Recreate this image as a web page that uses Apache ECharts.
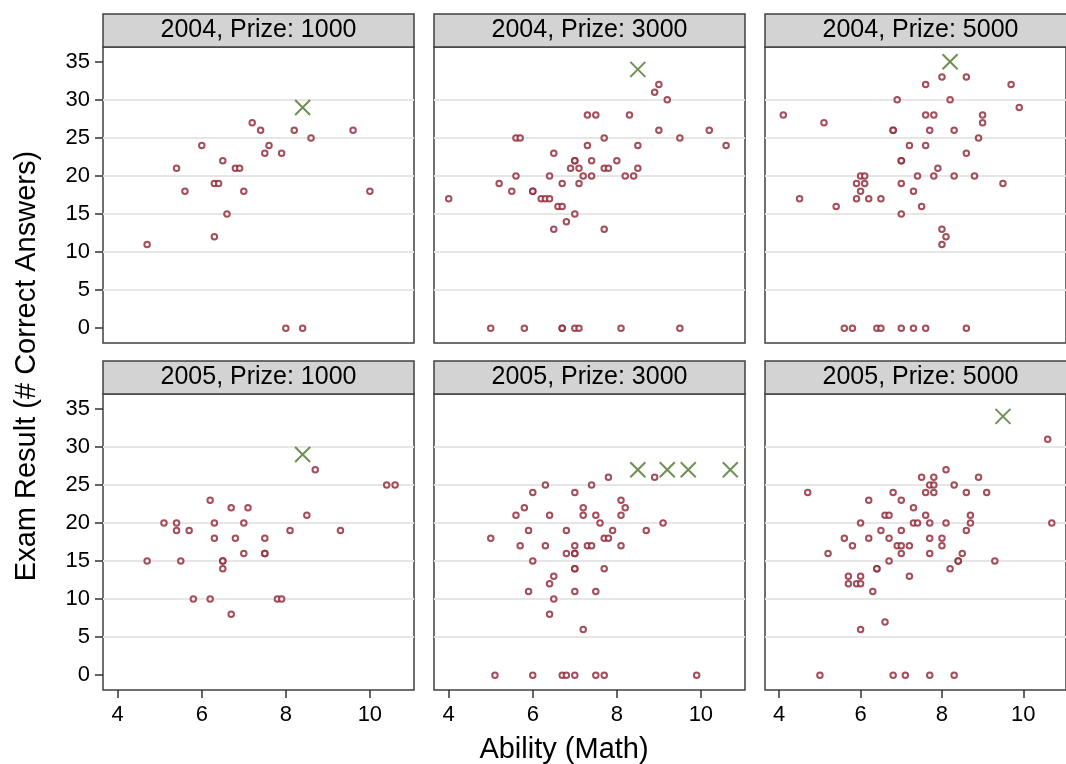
<!DOCTYPE html>
<html>
<head>
<meta charset="utf-8">
<title>Exam Result by Ability</title>
<script src="https://cdn.jsdelivr.net/npm/echarts@6/dist/echarts.min.js"></script>
<style>
    * { margin: 0; padding: 0; }
</style>
</head>
<body>
<div id="main" style="width: 1066px; height: 764px;"></div>
<script type="text/javascript">
// panel labels and ticks
var panelTitles = ['2004, Prize: 1000', '2004, Prize: 3000', '2004, Prize: 5000',
                   '2005, Prize: 1000', '2005, Prize: 3000', '2005, Prize: 5000'];
var xTicks = [4, 6, 8, 10];
var yTicks = [0, 5, 10, 15, 20, 25, 30, 35];

// students: [ability, exam result]
var pts2004p1000 = [[4.7,11],[5.4,21],[5.6,18],[6.0,24],[6.3,19],[6.4,19],[6.5,22],[6.3,12],[6.6,15],[6.8,21],[6.9,21],
    [7.0,18],[7.2,27],[7.4,26],[7.5,23],[7.6,24],[7.9,23],[8.2,26],[8.6,25],[9.6,26],[10.0,18],[8.0,0],[8.4,0]];
var pts2004p3000 = [[4.0,17],[5.0,0],[5.2,19],[5.5,18],[5.6,25],[5.7,25],[5.6,20],[5.8,0],[6.0,18],[6.0,18],[6.2,17],
    [6.3,17],[6.4,17],[6.4,20],[6.5,23],[6.5,13],[6.6,16],[6.7,16],[6.7,19],[6.7,0],[6.7,0],[6.8,14],[6.9,21],[7.0,22],
    [7.0,22],[7.0,15],[7.0,0],[7.1,0],[7.1,21],[7.1,19],[7.2,20],[7.3,24],[7.3,28],[7.4,22],[7.4,20],[7.5,28],[7.7,25],
    [7.7,21],[7.8,21],[7.7,13],[8.0,22],[8.1,0],[8.2,20],[8.3,28],[8.4,20],[8.5,24],[8.5,21],[8.9,31],[9.0,32],[9.2,30],
    [9.0,26],[9.5,25],[9.5,0],[10.2,26],[10.6,24]];
var pts2004p5000 = [[4.1,28],[4.5,17],[5.1,27],[5.4,16],[5.6,0],[5.8,0],[5.9,19],[5.9,17],[6.0,20],[6.1,20],[6.1,19],
    [6.0,18],[6.2,17],[6.4,0],[6.5,0],[6.5,17],[6.8,26],[6.8,26],[6.9,30],[7.0,22],[7.0,22],[7.0,19],[7.0,15],[7.0,0],
    [7.2,24],[7.3,18],[7.3,0],[7.4,20],[7.5,16],[7.6,32],[7.6,28],[7.6,24],[7.6,0],[7.7,26],[7.8,28],[7.8,20],[7.9,21],
    [8.0,33],[8.0,13],[8.1,12],[8.0,11],[8.2,30],[8.3,26],[8.3,20],[8.6,33],[8.6,23],[8.6,0],[8.8,20],[8.9,25],[9.0,28],
    [9.0,27],[9.5,19],[9.7,32],[9.9,29]];
var pts2005p1000 = [[4.7,15],[5.1,20],[5.4,20],[5.4,19],[5.5,15],[5.7,19],[5.8,10],[6.2,23],[6.2,10],[6.3,20],[6.3,18],
    [6.5,15],[6.5,15],[6.5,14],[6.7,22],[6.7,8],[6.8,18],[7.0,20],[7.0,16],[7.1,22],[7.5,18],[7.5,16],[7.5,16],[7.8,10],
    [7.9,10],[8.1,19],[8.5,21],[8.7,27],[9.3,19],[10.4,25],[10.6,25]];
var pts2005p3000 = [[5.0,18],[5.1,0],[5.6,21],[5.7,17],[5.8,22],[5.9,19],[5.9,11],[6.0,24],[6.0,15],[6.0,0],[6.3,25],
    [6.3,17],[6.4,21],[6.4,12],[6.4,8],[6.5,13],[6.5,10],[6.7,0],[6.8,0],[6.8,19],[6.8,16],[7.0,24],[7.0,17],[7.0,16],
    [7.0,16],[7.0,14],[7.0,14],[7.0,11],[7.0,0],[7.2,22],[7.2,21],[7.2,6],[7.3,17],[7.4,17],[7.4,25],[7.5,21],[7.5,11],
    [7.5,0],[7.6,20],[7.7,18],[7.8,18],[7.7,14],[7.7,0],[7.8,26],[7.9,19],[8.1,23],[8.1,21],[8.1,17],[8.2,22],[8.7,19],
    [8.9,26],[9.1,20],[9.9,0]];
var pts2005p5000 = [[4.7,24],[5.0,0],[5.2,16],[5.6,18],[5.7,13],[5.7,12],[5.8,17],[5.9,12],[6.0,12],[6.0,13],[6.0,20],
    [6.0,6],[6.2,23],[6.2,18],[6.3,11],[6.4,14],[6.4,14],[6.5,19],[6.6,21],[6.7,21],[6.6,7],[6.7,18],[6.7,15],[6.8,24],
    [6.8,0],[6.9,17],[7.0,23],[7.0,19],[7.0,17],[7.0,16],[7.1,0],[7.2,17],[7.2,13],[7.3,22],[7.3,20],[7.4,20],[7.5,26],
    [7.6,24],[7.6,21],[7.7,25],[7.7,20],[7.7,18],[7.7,16],[7.7,0],[7.8,26],[7.8,25],[7.8,24],[8.0,18],[8.0,17],[8.1,27],
    [8.1,20],[8.2,14],[8.3,25],[8.3,0],[8.4,15],[8.4,15],[8.5,16],[8.6,24],[8.6,19],[8.7,21],[8.7,20],[8.9,26],[9.1,24],
    [9.3,15],[10.6,31],[10.7,20]];

// highlighted (X) marks
var top2004p1000 = [[8.4,29]];
var top2004p3000 = [[8.5,34]];
var top2004p5000 = [[8.2,35]];
var top2005p1000 = [[8.4,29]];
var top2005p3000 = [[8.5,27],[9.2,27],[9.7,27],[10.7,27]];
var top2005p5000 = [[9.5,34]];

var points = [pts2004p1000, pts2004p3000, pts2004p5000, pts2005p1000, pts2005p3000, pts2005p5000];
var tops = [top2004p1000, top2004p3000, top2004p5000, top2005p1000, top2005p3000, top2005p5000];

var font = 'Liberation Sans, Arial, Helvetica, sans-serif';
var colLeft = [103, 434, 765];
var panelW = 311;
var rowTop = [47, 394];
var panelH = 296;
var headH = 33;
var border = '#404040';

var grids = [], xAxes = [], yAxes = [], series = [], graphics = [];

for (var i = 0; i < 6; i++) {
    var r = Math.floor(i / 3), c = i % 3;
    var bottomRow = r === 1, leftCol = c === 0;

    grids.push({
        left: colLeft[c], top: rowTop[r], width: panelW, height: panelH,
        show: true, backgroundColor: '#fff', borderColor: border, borderWidth: 1.5
    });

    xAxes.push({
        gridIndex: i, type: 'value', min: 3.65, max: 11.05, position: 'bottom',
        axisLine: { show: false, onZero: false },
        splitLine: { show: false },
        axisTick: { show: bottomRow, customValues: xTicks, length: 8, lineStyle: { color: '#333', width: 1.5 } },
        axisLabel: { show: bottomRow, customValues: xTicks, margin: 14, fontSize: 22, color: '#000', fontFamily: font }
    });

    yAxes.push({
        gridIndex: i, type: 'value', min: -1.94, max: 36.94, minInterval: 5, maxInterval: 5, position: 'left',
        axisLine: { show: false, onZero: false },
        splitLine: { show: true, showMinLine: false, showMaxLine: false, lineStyle: { color: '#e6e6e6', width: 2 } },
        axisTick: { show: leftCol, customValues: yTicks, length: 8, lineStyle: { color: '#333', width: 1.5 } },
        axisLabel: { show: leftCol, customValues: yTicks, margin: 13, fontSize: 22, color: '#000', fontFamily: font }
    });

    series.push({
        type: 'scatter', xAxisIndex: i, yAxisIndex: i, data: points[i],
        symbol: 'circle', symbolSize: 5.5,
        itemStyle: { color: '#fff', borderColor: '#8e2232', borderWidth: 2 }
    });
    series.push({
        type: 'scatter', xAxisIndex: i, yAxisIndex: i, data: tops[i],
        symbol: 'path://M0,0L10,10M10,0L0,10', symbolSize: 15,
        itemStyle: { color: 'transparent', borderColor: '#4a7426', borderWidth: 2 }
    });

    // panel header strip
    graphics.push({
        type: 'rect',
        shape: { x: colLeft[c], y: rowTop[r] - headH, width: panelW, height: headH },
        style: { fill: '#d3d3d3', stroke: border, lineWidth: 1.5 }
    });
    graphics.push({
        type: 'text',
        x: colLeft[c] + panelW / 2, y: rowTop[r] - headH / 2,
        style: { text: panelTitles[i], fontSize: 25, fontFamily: font, fill: '#000', align: 'center', verticalAlign: 'middle' }
    });
}

// overall axis titles
graphics.push({
    type: 'text', x: 564, y: 750,
    style: { text: 'Ability (Math)', fontSize: 29, fontFamily: font, fill: '#000', align: 'center', verticalAlign: 'middle' }
});
graphics.push({
    type: 'text', x: 27, y: 366, rotation: Math.PI / 2,
    style: { text: 'Exam Result (# Correct Answers)', fontSize: 29, fontFamily: font, fill: '#000', align: 'center', verticalAlign: 'middle' }
});

var myChart = echarts.init(document.getElementById('main'));
myChart.setOption({
    animation: false,
    backgroundColor: '#fff',
    grid: grids,
    xAxis: xAxes,
    yAxis: yAxes,
    series: series,
    graphic: graphics
});
</script>
</body>
</html>
